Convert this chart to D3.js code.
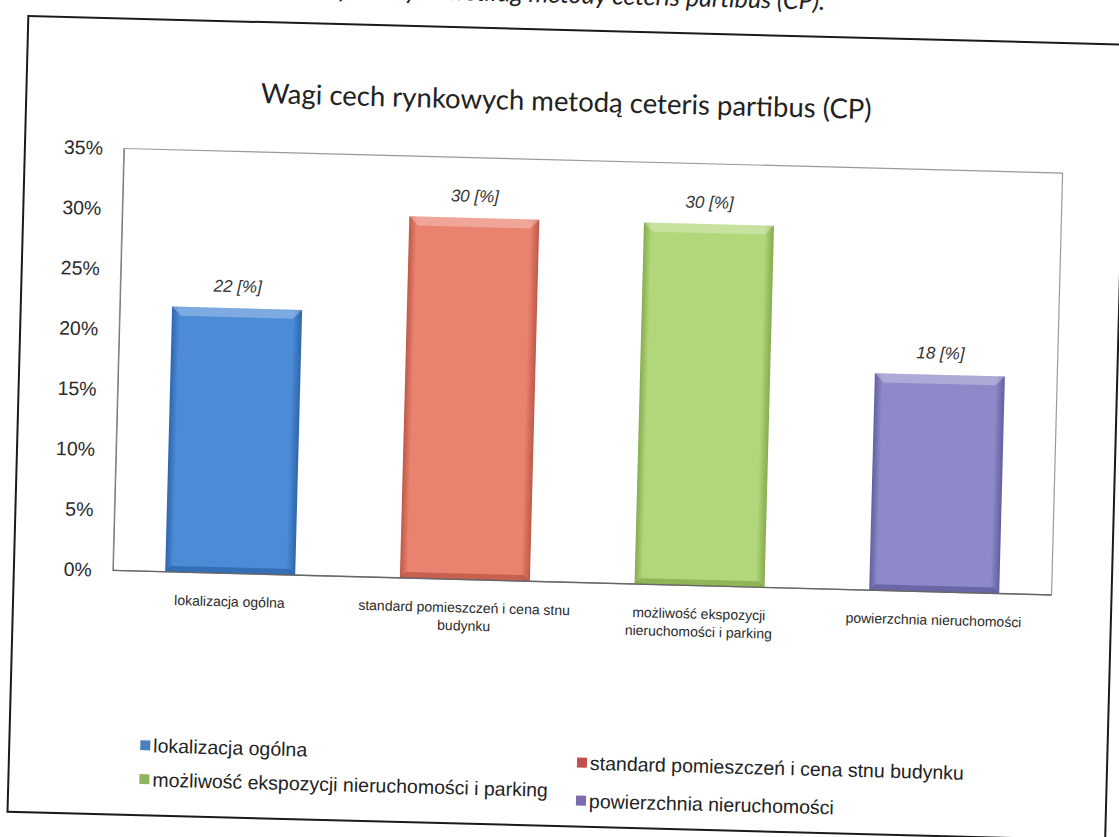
<!DOCTYPE html>
<html>
<head>
<meta charset="utf-8">
<script src="https://cdn.jsdelivr.net/npm/d3@7"></script>
<style>
  html, body { margin: 0; padding: 0; background: #ffffff; }
  svg { display: block; }
</style>
</head>
<body>
<svg id="chart" width="1119" height="837"></svg>
<script>
// ---- data ----
const categories = [
  "lokalizacja ogólna",
  "standard pomieszczeń i cena stnu budynku",
  "możliwość ekspozycji nieruchomości i parking",
  "powierzchnia nieruchomości"
];
const values = [22, 30, 30, 18];
const valueLabels = ["22 [%]", "30 [%]", "30 [%]", "18 [%]"];
const axisLabelLines = [
  ["lokalizacja ogólna"],
  ["standard pomieszczeń i cena stnu", "budynku"],
  ["możliwość ekspozycji", "nieruchomości i parking"],
  ["powierzchnia nieruchomości"]
];
const yTicks = [0, 5, 10, 15, 20, 25, 30, 35];
const title = "Wagi cech rynkowych metodą ceteris partibus (CP)";
const caption = "Wagi cech rynkowych według metody ceteris partibus (CP).";

// ---- styles ----
const barColors = ["#4c8bd6", "#e9836f", "#b2d67a", "#8e8ac9"];
const edgeColors = ["#2e66ad", "#bf5848", "#86ac4e", "#625ea0"];
const legendColors = ["#4a7fc0", "#c0504d", "#8fb560", "#7a6aae"];

const svg = d3.select("#chart");
const g = svg.append("g").attr("transform", "rotate(1.5,560,418)");

// page caption (clipped at top, as in the scan)
g.append("text")
  .attr("x", 814).attr("y", 3)
  .attr("text-anchor", "end")
  .style("font-family", "Lato, 'Open Sans', sans-serif")
  .style("font-style", "italic")
  .style("font-size", "25px")
  .attr("fill", "#222")
  .text(caption);

// outer frame
g.append("rect")
  .attr("x", 18).attr("y", 30).attr("width", 1098).attr("height", 796)
  .attr("fill", "none").attr("stroke", "#1a1a1a").attr("stroke-width", 2);

// title
g.append("text")
  .attr("x", 558).attr("y", 111)
  .attr("text-anchor", "middle")
  .style("font-family", "Lato, 'Open Sans', sans-serif")
  .style("font-size", "27.5px")
  .attr("fill", "#222")
  .text(title);

const plot = { left: 117, right: 1056, top: 160, bottom: 582 };

const x = d3.scaleBand()
  .domain(categories)
  .range([plot.left, plot.right])
  .paddingInner(0.446)
  .paddingOuter(0.223);

const y = d3.scaleLinear()
  .domain([0, 35])
  .range([plot.bottom, plot.top]);

// plot area border
g.append("rect")
  .attr("x", plot.left).attr("y", plot.top)
  .attr("width", plot.right - plot.left).attr("height", plot.bottom - plot.top)
  .attr("fill", "none").attr("stroke", "#9a9a9a").attr("stroke-width", 1.2);

// y axis
const yAxis = d3.axisLeft(y)
  .tickValues(yTicks)
  .tickSize(0)
  .tickPadding(21)
  .tickFormat(d => d + "%");
const ya = g.append("g").attr("transform", `translate(${plot.left},0)`).call(yAxis);
ya.select(".domain").attr("stroke", "#777");
ya.selectAll("text")
  .style("font-family", "'Liberation Sans', Arial, sans-serif")
  .style("font-size", "19.5px")
  .attr("fill", "#2a2a2a");

// gradients for bevel look
const defs = svg.append("defs");
categories.forEach((c, i) => {
  const lg = defs.append("linearGradient").attr("id", "grad" + i)
    .attr("x1", "0%").attr("x2", "100%").attr("y1", "0%").attr("y2", "0%");
  lg.append("stop").attr("offset", "0%").attr("stop-color", edgeColors[i]);
  lg.append("stop").attr("offset", "6%").attr("stop-color", barColors[i]);
  lg.append("stop").attr("offset", "93%").attr("stop-color", barColors[i]);
  lg.append("stop").attr("offset", "100%").attr("stop-color", edgeColors[i]);
});

// bars
const bars = g.append("g");
bars.selectAll("rect.bar")
  .data(values)
  .join("rect")
  .attr("class", "bar")
  .attr("x", (d, i) => x(categories[i]))
  .attr("y", d => y(d))
  .attr("width", x.bandwidth())
  .attr("height", d => y(0) - y(d))
  .attr("fill", (d, i) => `url(#grad${i})`);

// top highlight bevel
bars.selectAll("path.bevel")
  .data(values)
  .join("path")
  .attr("class", "bevel")
  .attr("d", (d, i) => {
    const x0 = x(categories[i]), w = x.bandwidth(), t = y(d), b = 9;
    return `M${x0},${t}L${x0 + w},${t}L${x0 + w - b},${t + b}L${x0 + b},${t + b}Z`;
  })
  .attr("fill", "#ffffff").attr("opacity", 0.28);

// bottom dark bevel
bars.selectAll("path.bevelb")
  .data(values)
  .join("path")
  .attr("class", "bevelb")
  .attr("d", (d, i) => {
    const x0 = x(categories[i]), w = x.bandwidth(), bt = y(0), b = 6;
    return `M${x0},${bt}L${x0 + w},${bt}L${x0 + w - b},${bt - b}L${x0 + b},${bt - b}Z`;
  })
  .attr("fill", (d, i) => edgeColors[i]).attr("opacity", 0.8);

// baseline
g.append("line")
  .attr("x1", plot.left).attr("x2", plot.right)
  .attr("y1", y(0)).attr("y2", y(0))
  .attr("stroke", "#666").attr("stroke-width", 1.4);

// value labels
g.selectAll("text.vlabel")
  .data(values)
  .join("text")
  .attr("class", "vlabel")
  .attr("x", (d, i) => x(categories[i]) + x.bandwidth() / 2)
  .attr("y", d => y(d) - 16)
  .attr("text-anchor", "middle")
  .style("font-family", "'Liberation Sans', Arial, sans-serif")
  .style("font-style", "italic")
  .style("font-size", "17px")
  .attr("fill", "#333")
  .text((d, i) => valueLabels[i]);

// category labels
const cl = g.selectAll("text.clabel")
  .data(categories)
  .join("text")
  .attr("class", "clabel")
  .attr("x", d => x(d) + x.bandwidth() / 2)
  .attr("y", plot.bottom + 33)
  .attr("text-anchor", "middle")
  .style("font-family", "'Liberation Sans', Arial, sans-serif")
  .style("font-size", "14px")
  .attr("fill", "#2a2a2a");
cl.each(function (d, i) {
  const t = d3.select(this);
  axisLabelLines[i].forEach((line, j) => {
    t.append("tspan")
      .attr("x", x(d) + x.bandwidth() / 2)
      .attr("dy", j === 0 ? 0 : 18)
      .text(line);
  });
});

// legend
const legendPos = [[149, 756], [586, 762], [149, 790], [586, 800]];
const lg = g.append("g");
categories.forEach((c, i) => {
  const [lx, ly] = legendPos[i];
  lg.append("rect")
    .attr("x", lx).attr("y", ly - 5).attr("width", 10).attr("height", 10)
    .attr("fill", legendColors[i]);
  lg.append("text")
    .attr("x", lx + 13).attr("y", ly + 7)
    .style("font-family", "'Liberation Sans', Arial, sans-serif")
    .style("font-size", "19.5px")
    .attr("fill", "#222")
    .text(c);
});
</script>
</body>
</html>
